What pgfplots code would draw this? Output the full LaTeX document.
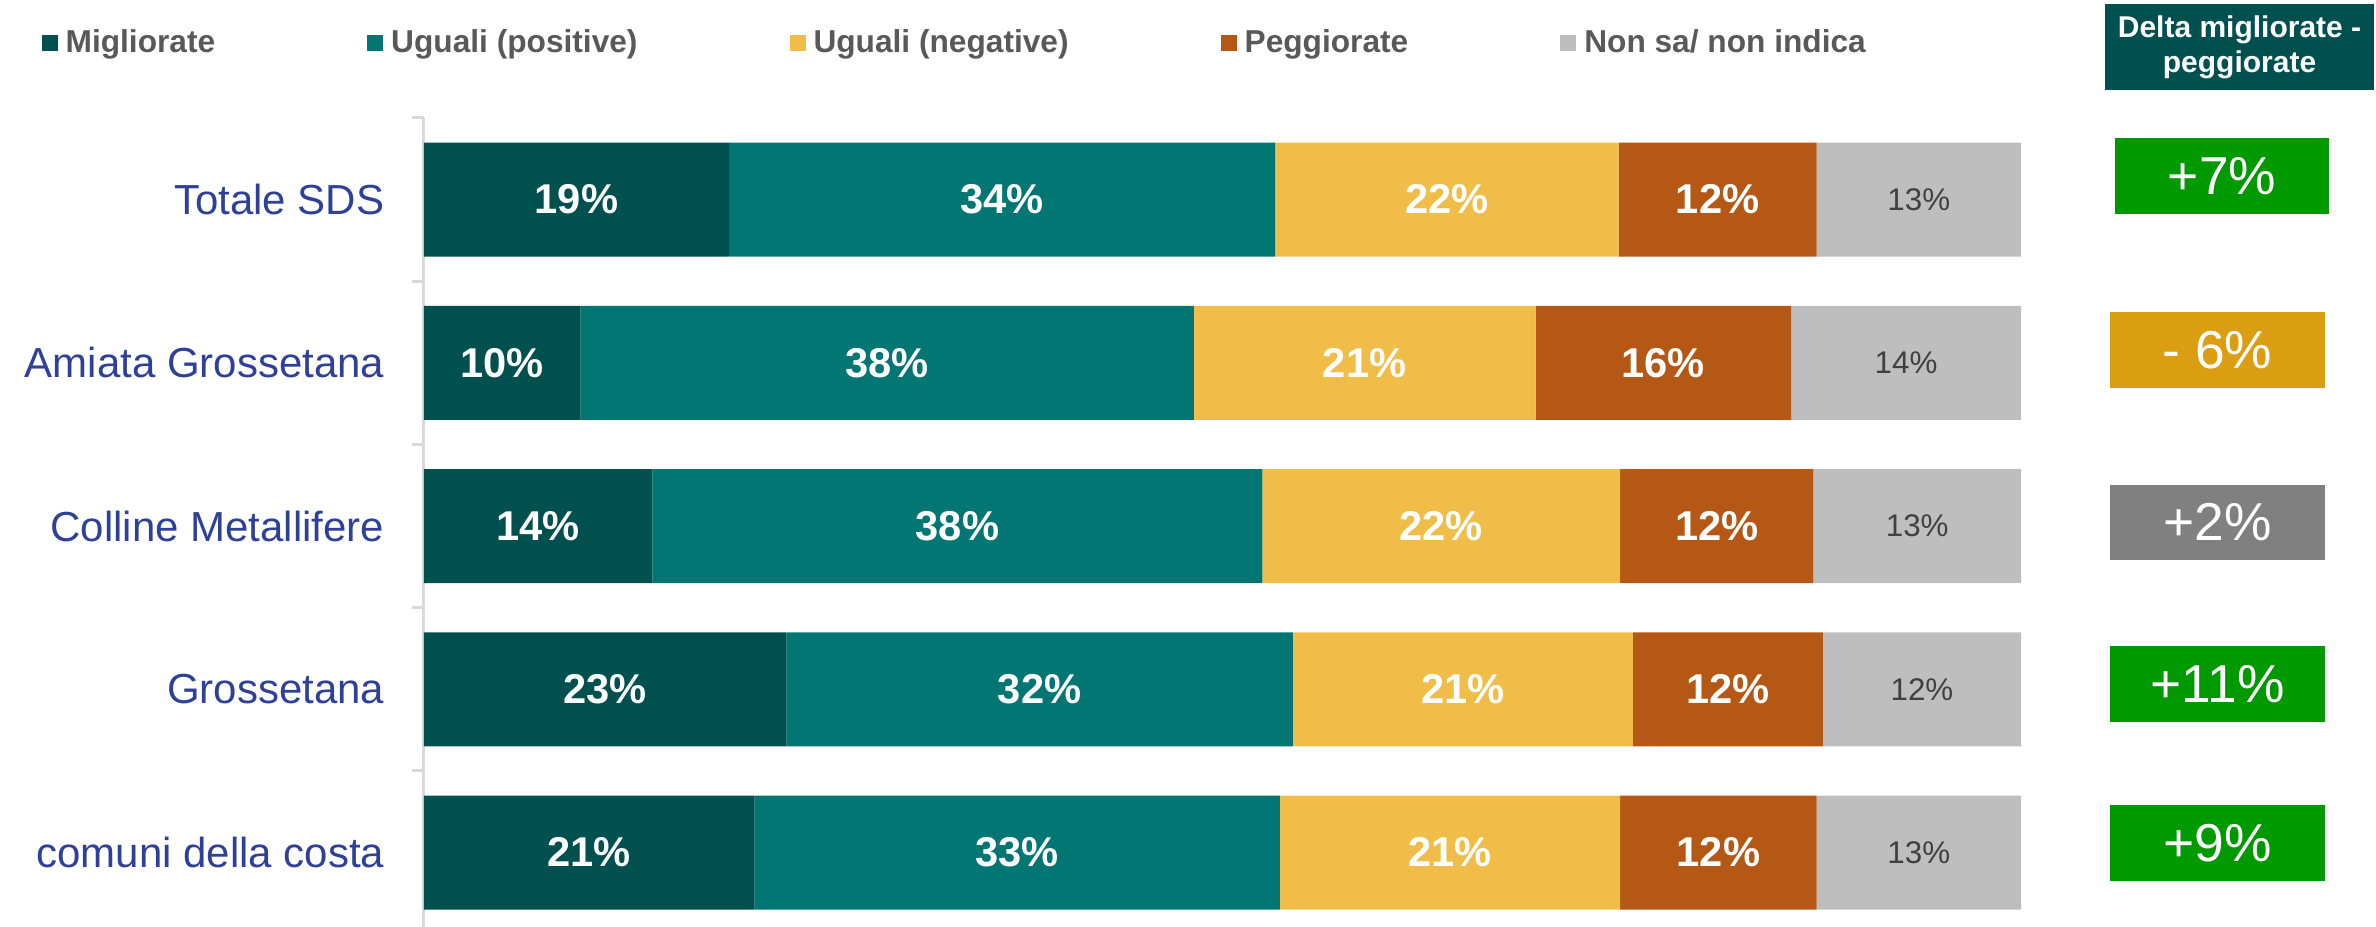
\documentclass[border=0pt]{standalone}
\usepackage{pgfplots}
\pgfplotsset{compat=1.18}
\usepackage{fontspec}
\setmainfont{Liberation Sans}
\definecolor{cMig}{RGB}{1,80,80}
\definecolor{cUpos}{RGB}{2,118,115}
\definecolor{cUneg}{RGB}{240,190,72}
\definecolor{cPeg}{RGB}{181,87,21}
\definecolor{cNon}{RGB}{190,190,190}
\definecolor{cLab}{RGB}{46,64,152}
\definecolor{cLeg}{RGB}{89,89,89}
\definecolor{cGrayTxt}{RGB}{64,64,64}
\definecolor{axisGray}{RGB}{217,217,217}
\definecolor{dGreen}{RGB}{0,153,0}
\definecolor{dOrange}{RGB}{219,158,18}
\definecolor{dGray}{RGB}{128,128,128}
\begin{document}
\begin{tikzpicture}[x=0.3pt,y=0.3pt]
\useasboundingbox (0,0) rectangle (2376,927);
\begin{axis}[
  at={(127.2pt,0pt)}, anchor=south west, scale only axis,
  width=479.1pt, height=242.7pt,
  xbar stacked, bar width=34.2pt,
  xmin=0, xmax=100, ymin=-0.5, ymax=4.456,
  y dir=reverse,
  axis x line=none, axis y line=left,
  axis line style={-},
  y axis line style={-, draw=axisGray, line width=0.9pt},
  ytick={0,1,2,3,4},
  yticklabels={Totale SDS, Amiata Grossetana, Colline Metallifere, Grossetana, comuni della costa},
  minor ytick={-0.5,0.5,1.5,2.5,3.5},
  major tick length=0pt, minor tick length=3.6pt, tick align=outside,
  minor tick style={draw=axisGray, line width=0.9pt},
  yticklabel style={font=\fontsize{12.6}{15}\selectfont, text=cLab, inner sep=0pt, xshift=-11.7pt},
  legend columns=5,
  legend image code/.code={\fill[#1] (0pt,-2.1pt) rectangle (4.8pt,2.7pt);},
  legend style={at={(-0.23982,1.0915)}, anchor=west, draw=none, fill=none, inner sep=0pt,
    font=\bfseries\fontsize{9.5}{11}\selectfont, text=cLeg,
    nodes={inner sep=0pt},
    /tikz/every even column/.append style={column sep=45.6pt},
    /tikz/every odd column/.append style={column sep=2.4pt}},
]
\addplot[fill=cMig, draw=none] coordinates {(19.1,0) (9.8,1) (14.3,2) (22.7,3) (20.7,4)};
\addplot[fill=cUpos, draw=none] coordinates {(34.2,0) (38.4,1) (38.2,2) (31.7,3) (32.9,4)};
\addplot[fill=cUneg, draw=none] coordinates {(21.5,0) (21.4,1) (22.4,2) (21.3,3) (21.3,4)};
\addplot[fill=cPeg, draw=none] coordinates {(12.4,0) (16.0,1) (12.1,2) (11.9,3) (12.3,4)};
\addplot[fill=cNon, draw=none] coordinates {(12.8,0) (14.4,1) (13.0,2) (12.4,3) (12.8,4)};
\legend{Migliorate, Uguali (positive), Uguali (negative), Peggiorate, Non sa/ non indica}
\end{axis}
\begin{axis}[
  at={(127.2pt,0pt)}, anchor=south west, scale only axis,
  width=479.1pt, height=242.7pt,
  xmin=0, xmax=100, ymin=-0.5, ymax=4.456,
  y dir=reverse, hide axis, clip=false,
]
\addplot[draw=none, mark=none, nodes near coords, point meta=explicit symbolic,
  every node near coord/.append style={anchor=center, text=white, inner sep=0pt, font=\bfseries\fontsize{12.5}{15}\selectfont}]
  coordinates {
  (9.55,0)[19\%] (4.9,1)[10\%] (7.15,2)[14\%] (11.35,3)[23\%] (10.35,4)[21\%]
  (36.2,0)[34\%] (29.0,1)[38\%] (33.4,2)[38\%] (38.55,3)[32\%] (37.15,4)[33\%]
  (64.05,0)[22\%] (58.9,1)[21\%] (63.7,2)[22\%] (65.05,3)[21\%] (64.25,4)[21\%]
  (81.0,0)[12\%] (77.6,1)[16\%] (80.95,2)[12\%] (81.65,3)[12\%] (81.05,4)[12\%]
  };
\addplot[draw=none, mark=none, nodes near coords, point meta=explicit symbolic,
  every node near coord/.append style={anchor=center, text=cGrayTxt, inner sep=0pt, font=\fontsize{9.4}{11}\selectfont}]
  coordinates {
  (93.6,0)[13\%] (92.8,1)[14\%] (93.5,2)[13\%] (93.8,3)[12\%] (93.6,4)[13\%]
  };
\end{axis}
% header box
\fill[cMig] (2105,837) rectangle (2374,923);
\node[text=white, font=\bfseries\fontsize{9}{10.5}\selectfont, align=center, inner sep=0pt] at (2239.5,880) {Delta migliorate -\\peggiorate};
% delta boxes
\fill[dGreen] (2115,713) rectangle (2329,789);
\node[text=white, font=\fontsize{16}{18}\selectfont, inner sep=0pt] at (2222,751) {+7\%};
\fill[dOrange] (2110,539) rectangle (2325,615);
\node[text=white, font=\fontsize{16}{18}\selectfont, inner sep=0pt] at (2217.5,577) {- 6\%};
\fill[dGray] (2110,367) rectangle (2325,442);
\node[text=white, font=\fontsize{16}{18}\selectfont, inner sep=0pt] at (2217.5,404.5) {+2\%};
\fill[dGreen] (2110,205) rectangle (2325,281);
\node[text=white, font=\fontsize{16}{18}\selectfont, inner sep=0pt] at (2217.5,243) {+11\%};
\fill[dGreen] (2110,46) rectangle (2325,122);
\node[text=white, font=\fontsize{16}{18}\selectfont, inner sep=0pt] at (2217.5,84) {+9\%};
\end{tikzpicture}
\end{document}
